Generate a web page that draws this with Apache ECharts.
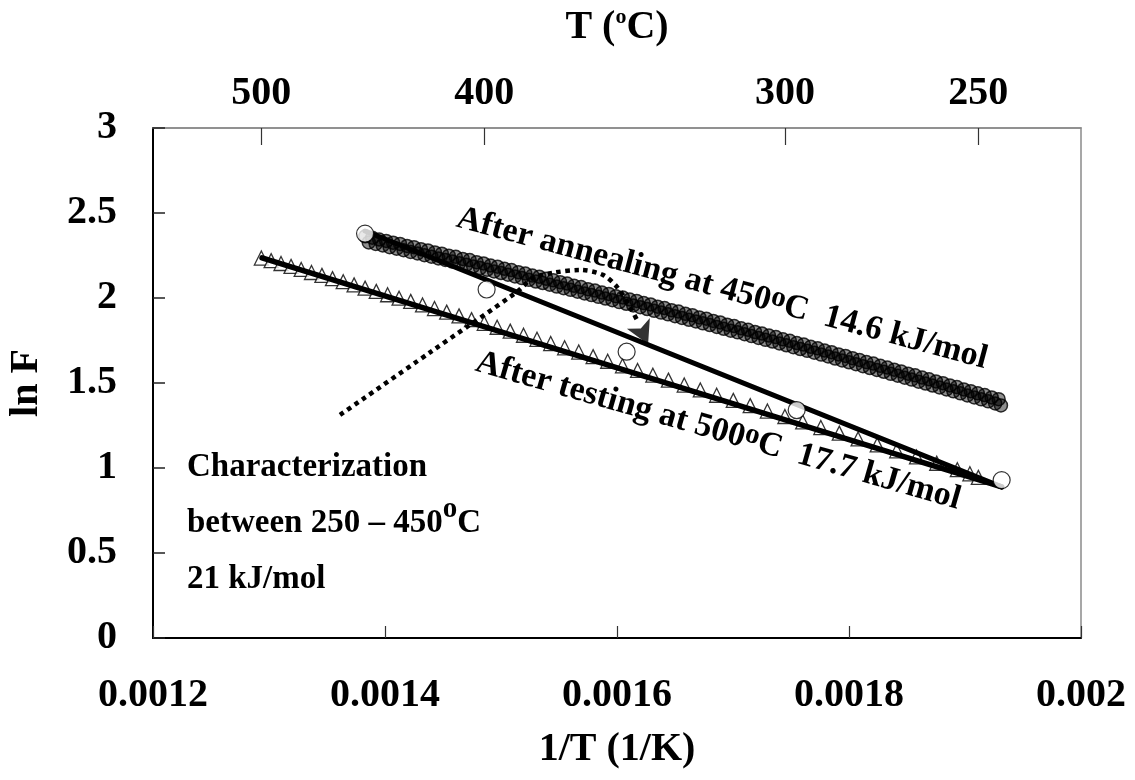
<!DOCTYPE html>
<html>
<head>
<meta charset="utf-8">
<script src="https://cdn.jsdelivr.net/npm/echarts@6/dist/echarts.min.js"></script>
<style>
  html, body { margin: 0; padding: 0; background: #fff; }
  #chart { width: 1135px; height: 780px; }
</style>
</head>
<body>
<div id="chart"></div>
<script>
// ---- data ----
// secondary (top) axis: temperatures in degrees C
const topTempsC = [500, 400, 300, 250];

// after testing at 500 C (triangles), temperatures in C and ln F
const testTempC = [500, 495, 490, 485, 480, 475, 470, 465, 460, 455,
  450, 445, 440, 435, 430, 425, 420, 415, 410, 405,
  400, 395, 390, 385, 380, 375, 370, 365, 360, 355,
  350, 345, 340, 335, 330, 325, 320, 315, 310, 305,
  300, 295, 290, 285, 280, 275, 270, 265, 260, 255, 252, 250];
const testLnF = [2.235, 2.220, 2.203, 2.186, 2.168, 2.150, 2.133, 2.114, 2.096, 2.077,
  2.058, 2.039, 2.019, 1.999, 1.980, 1.959, 1.938, 1.917, 1.895, 1.873,
  1.851, 1.828, 1.805, 1.781, 1.757, 1.732, 1.707, 1.682, 1.655, 1.628,
  1.601, 1.574, 1.546, 1.517, 1.488, 1.459, 1.428, 1.398, 1.367, 1.335,
  1.303, 1.271, 1.238, 1.205, 1.171, 1.136, 1.101, 1.065, 1.028, 0.990, 0.966, 0.945];
// linear fit through the triangles (17.7 kJ/mol)
const testFitInvT = [0.0012940, 0.0019316];
const testFitLnF = [2.236, 0.889];

// after annealing at 450 C (dense open circles, two passes)
const annealInvTA = [0.001383, 0.001389, 0.001395, 0.001401, 0.001407, 0.001413, 0.001419, 0.001425, 0.001431, 0.001437,
  0.001443, 0.001449, 0.001455, 0.001461, 0.001467, 0.001473, 0.001479, 0.001485, 0.001491, 0.001497,
  0.001503, 0.001509, 0.001515, 0.001521, 0.001527, 0.001533, 0.001539, 0.001545, 0.001551, 0.001557,
  0.001563, 0.001569, 0.001575, 0.001581, 0.001587, 0.001593, 0.001599, 0.001605, 0.001611, 0.001617,
  0.001623, 0.001629, 0.001635, 0.001641, 0.001647, 0.001653, 0.001659, 0.001665, 0.001671, 0.001677,
  0.001683, 0.001689, 0.001695, 0.001701, 0.001707, 0.001713, 0.001719, 0.001725, 0.001731, 0.001737,
  0.001743, 0.001749, 0.001755, 0.001761, 0.001767, 0.001773, 0.001779, 0.001785, 0.001791, 0.001797,
  0.001803, 0.001809, 0.001815, 0.001821, 0.001827, 0.001833, 0.001839, 0.001845, 0.001851, 0.001857,
  0.001863, 0.001869, 0.001875, 0.001881, 0.001887, 0.001893, 0.001899, 0.001905, 0.001911, 0.001917,
  0.001923, 0.001929];
const annealLnFA = [2.363, 2.355, 2.344, 2.336, 2.325, 2.318, 2.306, 2.299, 2.287, 2.280,
  2.268, 2.261, 2.249, 2.242, 2.230, 2.223, 2.211, 2.203, 2.191, 2.184,
  2.172, 2.164, 2.152, 2.144, 2.132, 2.125, 2.113, 2.104, 2.093, 2.085,
  2.072, 2.064, 2.052, 2.044, 2.032, 2.024, 2.011, 2.003, 1.991, 1.983,
  1.970, 1.962, 1.949, 1.941, 1.928, 1.920, 1.907, 1.899, 1.886, 1.878,
  1.865, 1.856, 1.843, 1.835, 1.822, 1.813, 1.800, 1.791, 1.779, 1.770,
  1.757, 1.748, 1.735, 1.726, 1.713, 1.704, 1.691, 1.681, 1.668, 1.659,
  1.646, 1.636, 1.623, 1.614, 1.601, 1.591, 1.578, 1.568, 1.555, 1.545,
  1.532, 1.522, 1.509, 1.499, 1.486, 1.476, 1.462, 1.452, 1.439, 1.429,
  1.415, 1.405];
const annealInvTB = [0.001386, 0.001392, 0.001398, 0.001404, 0.001410, 0.001416, 0.001422, 0.001428, 0.001434, 0.001440,
  0.001446, 0.001452, 0.001458, 0.001464, 0.001470, 0.001476, 0.001482, 0.001488, 0.001494, 0.001500,
  0.001506, 0.001512, 0.001518, 0.001524, 0.001530, 0.001536, 0.001542, 0.001548, 0.001554, 0.001560,
  0.001566, 0.001572, 0.001578, 0.001584, 0.001590, 0.001596, 0.001602, 0.001608, 0.001614, 0.001620,
  0.001626, 0.001632, 0.001638, 0.001644, 0.001650, 0.001656, 0.001662, 0.001668, 0.001674, 0.001680,
  0.001686, 0.001692, 0.001698, 0.001704, 0.001710, 0.001716, 0.001722, 0.001728, 0.001734, 0.001740,
  0.001746, 0.001752, 0.001758, 0.001764, 0.001770, 0.001776, 0.001782, 0.001788, 0.001794, 0.001800,
  0.001806, 0.001812, 0.001818, 0.001824, 0.001830, 0.001836, 0.001842, 0.001848, 0.001854, 0.001860,
  0.001866, 0.001872, 0.001878, 0.001884, 0.001890, 0.001896, 0.001902, 0.001908, 0.001914, 0.001920,
  0.001926, 0.001931];
const annealLnFB = [2.327, 2.318, 2.309, 2.299, 2.290, 2.281, 2.271, 2.262, 2.252, 2.243,
  2.233, 2.224, 2.214, 2.205, 2.195, 2.186, 2.176, 2.166, 2.156, 2.147,
  2.137, 2.127, 2.117, 2.107, 2.097, 2.088, 2.078, 2.067, 2.058, 2.048,
  2.037, 2.027, 2.017, 2.007, 1.997, 1.987, 1.976, 1.966, 1.956, 1.946,
  1.935, 1.925, 1.914, 1.904, 1.893, 1.883, 1.872, 1.862, 1.851, 1.841,
  1.830, 1.819, 1.808, 1.798, 1.787, 1.776, 1.765, 1.754, 1.744, 1.733,
  1.722, 1.711, 1.700, 1.689, 1.678, 1.667, 1.656, 1.644, 1.633, 1.622,
  1.611, 1.599, 1.588, 1.577, 1.566, 1.554, 1.543, 1.531, 1.520, 1.508,
  1.497, 1.485, 1.474, 1.462, 1.451, 1.439, 1.427, 1.415, 1.404, 1.392,
  1.380, 1.368];

// characterization between 250 and 450 C (large open circles) and its fit
const charInvT = [0.0013828, 0.0014876, 0.0016083, 0.0017549, 0.0019316];
const charLnF = [2.379, 2.050, 1.684, 1.341, 0.929];
const charFitInvT = [0.0013828, 0.0019316];
const charFitLnF = [2.394, 0.889];

// dotted guide arrow (1/T, ln F)
const guideInvT = [0.0013612, 0.0014388, 0.0015138, 0.0015276, 0.0015448, 0.0015681, 0.0015879, 0.0016000, 0.0016112, 0.0016181];
const guideLnF = [1.312, 1.680, 2.036, 2.118, 2.148, 2.165, 2.136, 2.065, 1.948, 1.859];
const guideHead = [0.0016268, 1.728];

// ---- helpers ----
const toK = c => c + 273.15;
const zip = (xs, ys) => xs.map((x, i) => [x, ys[i]]);
const FONT = 'Liberation Serif';
const topTickInvT = topTempsC.map(c => 1 / toK(c));

const chart = echarts.init(document.getElementById('chart'), null, { renderer: 'canvas' });

const baseLabel = { fontFamily: FONT, fontWeight: 'bold', fontSize: 40, color: '#000' };
// rings with a tint so the dense overlapping passes read as a dark band
const ringStyle = { color: 'rgba(0,0,0,0.55)', borderColor: '#000', borderWidth: 1.5 };

const option = {
  animation: false,
  backgroundColor: '#fff',
  grid: {
    left: 153, right: 54, top: 128, bottom: 142,
    show: true, borderColor: '#8a8a8a', borderWidth: 1.5,
    containLabel: false, outerBoundsMode: 'none'
  },
  xAxis: [{
    type: 'value', position: 'bottom', min: 0.0012, max: 0.002, interval: 0.0002,
    name: '1/T (1/K)', nameLocation: 'middle', nameGap: 92,
    nameTextStyle: Object.assign({}, baseLabel),
    axisLine: { show: true, onZero: false, lineStyle: { color: '#000', width: 2 } },
    axisTick: { show: true, inside: true, length: 12, lineStyle: { color: '#333', width: 1.2 } },
    axisLabel: Object.assign({ margin: 38, showMinLabel: true, showMaxLabel: true,
      formatter: v => String(parseFloat(v.toFixed(4))) }, baseLabel),
    splitLine: { show: false }
  }, {
    type: 'value', position: 'top', min: 0.0012, max: 0.002,
    name: 'T ({s|o}C)', nameLocation: 'middle', nameGap: 78,
    nameTextStyle: Object.assign({ lineHeight: 44, rich: {
      s: { fontFamily: FONT, fontWeight: 'bold', fontSize: 22, lineHeight: 26, verticalAlign: 'top', color: '#000' }
    } }, baseLabel),
    axisLine: { show: true, onZero: false, lineStyle: { color: '#8a8a8a', width: 1.5 } },
    axisTick: { show: true, inside: true, length: 17, customValues: topTickInvT, lineStyle: { color: '#333', width: 1.2 } },
    axisLabel: Object.assign({ margin: 14, customValues: topTickInvT,
      formatter: v => String(Math.round(1 / v - 273.15)) }, baseLabel),
    splitLine: { show: false }
  }],
  yAxis: [{
    type: 'value', min: 0, max: 3, interval: 0.5,
    name: 'ln F', nameLocation: 'middle', nameGap: 106,
    nameTextStyle: Object.assign({}, baseLabel),
    axisLine: { show: true, onZero: false, lineStyle: { color: '#000', width: 2 } },
    axisTick: { show: true, inside: true, length: 12, lineStyle: { color: '#222', width: 1.5 } },
    axisLabel: Object.assign({ margin: 36 }, baseLabel),
    splitLine: { show: false }
  }],
  series: [
    {
      name: 'After testing at 500 C', type: 'scatter', z: 2,
      data: zip(testTempC.map(c => 1 / toK(c)), testLnF),
      symbol: 'triangle', symbolSize: [14, 14],
      itemStyle: { color: '#fff', borderColor: '#000', borderWidth: 1.3 }
    },
    {
      name: 'Fit 17.7 kJ/mol', type: 'line', z: 3,
      data: zip(testFitInvT, testFitLnF), symbol: 'none',
      lineStyle: { color: '#000', width: 5.5, cap: 'round' }
    },
    {
      name: 'Fit 21 kJ/mol', type: 'line', z: 3,
      data: zip(charFitInvT, charFitLnF), symbol: 'none',
      lineStyle: { color: '#000', width: 5, cap: 'round' }
    },
    {
      name: 'After annealing at 450 C (A)', type: 'scatter', z: 4,
      data: zip(annealInvTA, annealLnFA), symbol: 'circle', symbolSize: 13,
      itemStyle: ringStyle
    },
    {
      name: 'After annealing at 450 C (B)', type: 'scatter', z: 4,
      data: zip(annealInvTB, annealLnFB), symbol: 'circle', symbolSize: 13,
      itemStyle: ringStyle
    },
    {
      name: 'Characterization 250-450 C', type: 'scatter', z: 5,
      data: zip(charInvT, charLnF), symbol: 'circle', symbolSize: 17,
      itemStyle: { color: '#fff', borderColor: '#000', borderWidth: 1.2 }
    },
    {
      name: 'guide', type: 'line', z: 6, smooth: 0.3,
      data: zip(guideInvT, guideLnF), symbol: 'none',
      lineStyle: { color: '#000', width: 4.5, type: [4.5, 4.5], cap: 'butt' }
    },
    {
      name: 'guide head', type: 'scatter', z: 6,
      data: [guideHead], symbol: 'arrow', symbolSize: [19, 23], symbolRotate: 205,
      itemStyle: { color: '#000' }
    }
  ]
};

chart.setOption(option);

// rotated / multi-line annotations anchored in data coordinates
const px = p => chart.convertToPixel({ xAxisIndex: 0, yAxisIndex: 0 }, p);
const annFont = { fontFamily: FONT, fontWeight: 'bold', fontSize: 34, fill: '#000' };
const blockFont = { fontFamily: FONT, fontWeight: 'bold', fontSize: 33, fill: '#000' };
const supStyle = { fontFamily: FONT, fontWeight: 'bold', fontSize: 29, lineHeight: 20, verticalAlign: 'top', fill: '#000' };

const a1 = px([0.0016905, 2.054]);
const a2 = px([0.0016871, 1.217]);
const a3 = px([0.0012293, 1.170]);

chart.setOption({
  graphic: [
    {
      type: 'text', x: a1[0], y: a1[1], rotation: -15 * Math.PI / 180, z: 10,
      style: Object.assign({
        text: 'After annealing at 450{s|o}C  14.6 kJ/mol',
        align: 'center', verticalAlign: 'middle', lineHeight: 40,
        rich: { s: supStyle }
      }, annFont)
    },
    {
      type: 'text', x: a2[0], y: a2[1], rotation: -16 * Math.PI / 180, z: 10,
      style: Object.assign({
        text: 'After testing at 500{s|o}C  17.7 kJ/mol',
        align: 'center', verticalAlign: 'middle', lineHeight: 40,
        rich: { s: supStyle }
      }, annFont)
    },
    {
      type: 'text', x: a3[0], y: a3[1], z: 10,
      style: Object.assign({
        text: 'Characterization\nbetween 250 \u2013 450{s|o}C\n21 kJ/mol',
        align: 'left', verticalAlign: 'top', lineHeight: 56,
        rich: { s: Object.assign({}, supStyle, { lineHeight: 36 }) }
      }, blockFont)
    }
  ]
});
</script>
</body>
</html>
